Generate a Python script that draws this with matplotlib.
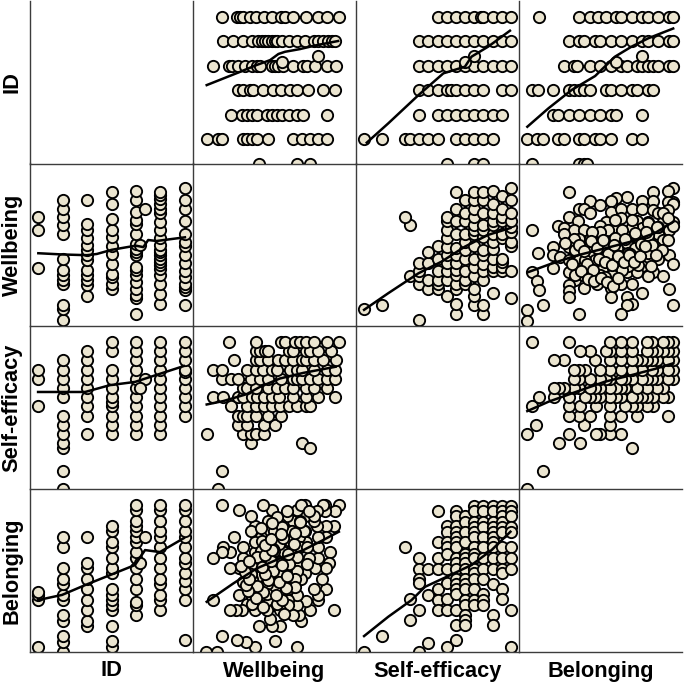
"""
plot.py - pairs plot of ID, Wellbeing, Self-efficacy and Belonging with smoothers.
"""
import numpy as np
import matplotlib; matplotlib.use('Agg')
import matplotlib.pyplot as plt

names = ['ID', 'Wellbeing', 'Self-efficacy', 'Belonging']
id_levels = [1, 2, 3, 4, 5, 6, 7]
se_levels = [1.0, 1.375, 1.75, 2.125, 2.5, 2.875, 3.25, 3.625, 4.0, 4.375, 4.75, 5.125, 5.5, 5.875, 6.25, 6.625, 7.0]

# wellbeing / self-efficacy / belonging scores at each ID level (1..7)
wb_by_id = [
    [3.38, 4.93, 5.45],
    [1.23, 1.71, 1.87, 2.73, 2.89, 3.07, 3.27, 3.75, 4.77, 5.11, 5.45, 5.79, 6.13],
    [2.21, 2.66, 2.86, 3.07, 3.27, 3.68, 3.88, 4.09, 4.29, 4.59, 4.93, 5.18, 6.13],
    [2.52, 2.73, 3.0, 3.14, 3.54, 3.95, 4.25, 4.63, 4.93, 5.38, 5.97, 6.47],
    [1.50, 2.16, 2.25, 2.52, 2.79, 3.07, 3.27, 3.41, 3.88, 4.02, 4.16, 4.36, 4.77, 5.18, 5.31, 5.65, 6.13, 6.50],
    [1.88, 2.32, 2.70, 3.07, 3.34, 3.48, 3.61, 3.75, 3.88, 4.02, 4.11, 4.29, 4.59, 4.93, 5.24, 5.61, 5.79, 5.99, 6.2, 6.33, 6.47],
    [1.84, 2.45, 2.59, 2.73, 3.0, 3.23, 3.57, 3.91, 4.25, 4.43, 4.77, 5.27, 5.79, 6.13, 6.63],
]
se_by_id = [
    [4.375, 5.5, 5.875],
    [1.0, 1.75, 2.68, 2.875, 3.25, 3.625, 4.0, 4.75, 5.125, 5.5, 5.875, 6.25],
    [3.25, 4.0, 4.375, 4.75, 5.125, 5.5, 5.875, 6.25, 6.625],
    [3.25, 3.625, 4.0, 4.375, 4.56, 4.75, 5.125, 5.5, 5.875, 6.625, 7.0],
    [3.25, 3.625, 4.0, 4.375, 4.75, 5.125, 5.5, 5.875, 6.25, 6.625, 7.0],
    [3.25, 3.625, 4.0, 4.375, 4.75, 5.125, 5.5, 5.875, 6.25, 6.625, 7.0],
    [4.0, 4.375, 4.75, 5.125, 5.5, 5.76, 5.875, 6.25, 6.625, 7.0],
]
bel_by_id = [
    [1.22, 3.14, 3.34, 3.44],
    [1.0, 1.39, 1.64, 2.28, 2.50, 3.14, 3.34, 3.78, 3.99, 4.41, 5.27, 5.71],
    [2.07, 2.28, 2.71, 3.14, 3.57, 3.99, 4.41, 4.63, 5.71],
    [1.22, 1.44, 2.07, 2.71, 2.93, 3.14, 3.34, 3.57, 4.21, 4.41, 4.85, 5.27, 5.49, 5.93, 6.13],
    [2.50, 2.93, 3.03, 3.57, 3.99, 4.41, 4.85, 5.07, 5.49, 5.71, 5.93, 6.13, 6.36, 6.78, 6.98],
    [2.71, 3.14, 3.34, 3.78, 3.99, 4.41, 4.85, 5.27, 5.71, 5.93, 6.36, 6.78, 6.98],
    [1.49, 3.14, 3.57, 3.88, 4.21, 4.63, 4.85, 5.27, 5.71, 5.93, 6.36, 6.78, 6.98],
]
# two respondents with an imputed, non-integer ID
id_extra = [5.38, 5.15]
wb_extra = [5.79, 4.29]
se_extra = [5.5, 5.125]
bel_extra = [5.71, 4.63]

# wellbeing at each self-efficacy level
wb_by_se = [
    [1.68], [], [1.87], [], [],
    [3.04, 5.11],
    [1.23, 2.70, 3.04, 3.23, 3.57],
    [2.52, 2.89, 3.57, 4.01],
    [2.52, 2.73, 2.89, 3.23, 3.75, 4.25],
    [2.21, 2.89, 3.23, 3.57, 3.88, 4.22, 4.59, 4.93, 5.27, 5.45],
    [1.50, 1.91, 2.52, 2.73, 3.07, 3.27, 3.57, 3.88, 4.20, 4.77, 5.27, 5.79, 6.47],
    [2.70, 2.89, 3.23, 3.75, 4.11, 4.43, 4.77, 5.27, 5.61, 6.13],
    [1.87, 2.21, 2.52, 3.04, 3.41, 3.75, 4.25, 4.77, 4.93, 5.11, 5.45, 5.79, 6.13, 6.47],
    [1.50, 1.87, 2.86, 3.23, 3.52, 3.88, 4.09, 4.63, 4.93, 5.11, 5.61, 6.13, 6.47],
    [2.36, 3.23, 3.41, 3.75, 4.16, 4.43, 4.77, 5.11, 5.27, 5.62, 5.99, 6.50],
    [3.23, 3.41, 3.61, 3.75, 4.59, 4.77, 5.27, 5.45, 5.79, 6.31],
    [2.14, 3.23, 4.25, 4.43, 4.84, 5.04, 5.27, 5.62, 6.13, 6.65],
]
# belonging at each self-efficacy level
bel_by_se = [
    [1.0], [], [1.65], [], [],
    [3.15, 2.29],
    [4.85, 4.40, 3.96, 3.80, 2.71, 1.0],
    [4.40, 3.33, 1.38],
    [6.77, 5.50, 4.85, 4.40, 3.56, 3.12, 2.71],
    [6.15, 5.91, 5.50, 5.27, 5.02, 4.40, 3.80, 3.15, 2.71, 1.22],
    [6.77, 6.55, 6.15, 5.91, 5.71, 5.50, 5.27, 4.85, 4.62, 4.40, 3.99, 3.77, 3.56, 3.37, 2.71, 2.10, 1.49],
    [6.55, 6.32, 5.91, 5.50, 5.02, 4.82, 4.62, 4.40, 3.99, 3.77, 3.56, 3.12, 2.92, 2.51, 2.30, 2.10],
    [6.97, 6.77, 6.32, 6.11, 5.91, 5.71, 5.27, 5.02, 4.82, 4.40, 4.21, 3.99, 3.56, 3.12, 2.92],
    [6.97, 6.77, 6.32, 6.11, 5.71, 5.27, 4.82, 4.40, 3.99, 3.37, 3.12, 2.92],
    [6.97, 6.77, 6.32, 6.11, 5.91, 5.71, 5.50, 5.27, 4.82, 4.40, 3.77, 2.51, 2.10],
    [6.97, 6.77, 6.55, 6.32, 6.11, 5.91, 5.27, 4.82, 4.40, 4.21, 3.56, 3.15],
    [6.97, 6.77, 6.55, 6.11, 5.91, 5.27, 4.82, 4.40, 2.71, 1.22],
]
se_single = [2.68]
wb_single = [5.46]
bel_single = [5.27]

# belonging and wellbeing, respondent by respondent
bel_wb_b = [2.71, 6.98, 6.77, 6.13, 5.07, 4.63, 4.41, 3.57, 3.98, 6.13, 5.71, 6.98, 6.77, 6.98, 3.14, 3.34, 3.57, 4.41,
            4.85, 5.27, 5.71, 6.13, 6.77, 6.36, 2.71, 3.07, 4.21, 4.85, 5.49, 5.93, 6.56, 6.98, 2.28, 2.52, 1.22, 2.93,
            3.34, 3.99, 4.41, 5.07, 5.71, 6.13, 6.36, 6.78, 6.98, 2.50, 3.14, 3.57, 2.93, 4.21, 4.85, 5.27, 5.93, 6.56,
            3.78, 2.07, 2.71, 3.14, 5.07, 5.71, 6.13, 1.44, 2.07, 2.35, 3.57, 4.21, 4.46, 5.27, 5.49, 5.93, 6.36, 6.78,
            2.71, 3.14, 3.78, 3.34, 3.99, 4.63, 5.71, 6.98, 2.07, 1.22, 2.71, 3.57, 4.41, 5.07, 5.49, 6.13, 6.56, 5.93,
            1.39, 2.96, 3.57, 3.99, 4.41, 4.85, 5.27, 3.84, 2.71, 1.49, 3.34, 2.71, 4.41, 5.68, 6.78, 2.71, 4.41, 5.07,
            1.64, 5.27, 5.07, 6.98, 0.99, 3.14, 4.85, 0.99,
            3.78, 4.21, 4.66, 5.07, 5.41, 4.86, 4.59, 4.05, 3.64, 3.37, 2.55, 2.96, 3.78, 4.05, 4.59, 5.27, 4.86, 5.88,
            6.22, 5.95, 6.50, 6.77, 5.95, 5.54, 4.32, 3.98, 3.64, 4.59, 5.14, 5.54, 5.14, 4.86, 4.46, 3.98, 3.30, 2.96,
            5.95, 6.36, 5.27, 4.59, 4.18, 3.78, 6.56, 6.77,
            3.14, 3.34, 3.60, 3.85, 4.10, 4.30, 4.55, 4.75, 5.00, 5.20, 5.40, 5.65, 5.85, 6.10, 6.30, 3.45, 3.70, 3.95,
            4.20, 4.45, 4.70, 4.95, 5.15, 5.35, 5.60, 5.80, 6.05, 6.25, 2.85, 3.20, 3.50, 3.75, 4.00, 4.25, 4.50, 4.70]
bel_wb_w = [6.45, 6.62, 6.49, 6.45, 6.28, 6.22, 6.11, 6.11, 5.94, 6.11, 6.11, 6.08, 6.08, 5.97, 5.77, 5.77, 5.60, 5.67,
            5.77, 5.77, 5.77, 5.74, 5.74, 5.60, 5.44, 5.30, 5.26, 5.40, 5.29, 5.26, 5.26, 5.26, 5.09, 5.0, 4.92, 4.92,
            4.92, 5.09, 4.76, 4.76, 5.0, 4.92, 4.76, 4.92, 5.09, 4.76, 4.56, 4.56, 4.56, 4.41, 4.41, 4.51, 4.56, 4.51,
            4.31, 4.24, 4.22, 4.08, 4.11, 4.08, 4.22, 4.0, 3.88, 3.83, 4.04, 3.88, 3.86, 3.73, 3.73, 3.73, 3.73, 3.88,
            3.70, 3.70, 3.54, 3.43, 3.43, 3.43, 3.45, 3.55, 3.37, 3.21, 3.21, 3.29, 3.21, 3.21, 3.21, 3.21, 3.05, 3.05,
            2.85, 2.88, 2.99, 3.02, 2.91, 2.72, 2.72, 2.72, 2.68, 2.45, 2.54, 2.41, 2.54, 2.34, 2.53, 2.17, 2.19, 2.17,
            1.85, 1.88, 1.85, 1.85, 1.66, 1.5, 1.5, 1.21,
            3.70, 4.24, 4.17, 4.38, 4.17, 3.70, 3.70, 3.29, 3.09, 3.70, 4.38, 4.11, 4.65, 4.65, 5.06, 5.06, 4.92, 4.38,
            4.24, 3.97, 4.11, 4.51, 4.72, 4.65, 4.92, 4.85, 4.85, 4.58, 3.97, 3.5, 3.43, 3.29, 3.09, 3.09, 3.09, 3.09,
            5.19, 5.06, 5.33, 5.33, 3.02, 3.02, 5.60, 5.40,
            4.30, 4.05, 4.45, 4.20, 4.50, 3.95, 4.30, 3.85, 4.55, 3.95, 4.80, 4.35, 4.85, 4.30, 5.05, 3.55, 3.30, 3.75,
            3.60, 3.50, 3.85, 3.60, 3.90, 3.60, 3.85, 4.25, 3.45, 3.90, 3.55, 3.25, 2.90, 2.85, 2.95, 2.80, 2.65, 2.95]

# smoother for each panel: (row variable, column variable) -> x, y
line_w_id_x = [1.23, 1.91, 2.59, 3.27, 3.82, 4.16, 4.43, 5.04, 5.72, 6.6]
line_w_id_y = [4.20, 4.47, 4.74, 5.02, 5.22, 5.47, 5.56, 5.67, 5.83, 6.0]
line_s_id_x = [1.11, 1.99, 3.22, 4.24, 5.12, 5.39, 6.07, 6.96]
line_s_id_y = [1.85, 2.64, 3.79, 4.68, 4.95, 5.36, 5.77, 6.42]
line_b_id_x = [1.01, 1.87, 2.82, 3.78, 4.59, 5.27, 5.95, 6.97]
line_b_id_y = [2.5, 3.25, 4.0, 4.57, 5.36, 5.77, 6.11, 6.51]
line_id_w_x = [1.01, 1.99, 3.0, 3.4, 4.01, 4.99, 5.3, 5.5, 5.84, 7.0]
line_id_w_y = [3.97, 3.92, 3.89, 3.94, 4.11, 4.28, 4.22, 4.51, 4.47, 4.62]
line_s_w_x = [1.0, 1.99, 3.22, 4.17, 5.12, 6.07, 6.98]
line_s_w_y = [1.66, 2.34, 3.15, 3.63, 4.24, 4.72, 5.0]
line_b_w_x = [1.05, 1.87, 2.96, 4.18, 5.27, 6.22, 6.98]
line_b_w_y = [3.2, 3.5, 3.86, 4.17, 4.45, 4.79, 5.26]
line_id_s_x = [1.0, 2.92, 3.94, 4.96, 5.57, 6.96]
line_id_s_y = [4.96, 4.96, 5.24, 5.37, 5.57, 6.02]
line_w_s_x = [1.23, 1.91, 2.86, 3.41, 4.22, 5.18, 6.5]
line_w_s_y = [4.45, 4.59, 4.87, 5.17, 5.51, 5.74, 5.99]
line_b_s_x = [1.01, 1.87, 2.82, 4.18, 5.27, 6.22, 6.97]
line_b_s_y = [4.18, 4.56, 4.9, 5.38, 5.65, 5.9, 6.13]
line_id_b_x = [1.0, 1.98, 2.92, 3.94, 4.96, 5.37, 5.98, 6.96]
line_id_b_y = [3.12, 3.33, 3.73, 4.14, 4.55, 5.16, 5.08, 5.65]
line_w_b_x = [1.23, 2.32, 3.27, 4.22, 5.18, 5.99, 6.63]
line_w_b_y = [3.05, 3.8, 4.41, 4.82, 5.16, 5.57, 5.91]
line_s_b_x = [1.0, 1.99, 2.94, 3.49, 4.44, 5.39, 6.21, 6.98]
line_s_b_y = [1.65, 2.44, 3.12, 3.66, 4.1, 4.55, 5.16, 5.91]


def flatten(levels, groups, extra_level, extra_values):
    x, y = [], []
    for lev, vals in zip(levels, groups):
        x += [lev]*len(vals)
        y += vals
    return x + extra_level, y + extra_values


pairs = {}
pairs[(0, 1)] = flatten(id_levels, wb_by_id, id_extra, wb_extra)
pairs[(0, 2)] = flatten(id_levels, se_by_id, id_extra, se_extra)
pairs[(0, 3)] = flatten(id_levels, bel_by_id, id_extra, bel_extra)
pairs[(2, 1)] = flatten(se_levels, wb_by_se, se_single, wb_single)
pairs[(2, 3)] = flatten(se_levels, bel_by_se, se_single, bel_single)
pairs[(3, 1)] = (bel_wb_b, bel_wb_w)

lines = {
    (0, 1): (line_w_id_x, line_w_id_y), (0, 2): (line_s_id_x, line_s_id_y), (0, 3): (line_b_id_x, line_b_id_y),
    (1, 0): (line_id_w_x, line_id_w_y), (1, 2): (line_s_w_x, line_s_w_y), (1, 3): (line_b_w_x, line_b_w_y),
    (2, 0): (line_id_s_x, line_id_s_y), (2, 1): (line_w_s_x, line_w_s_y), (2, 3): (line_b_s_x, line_b_s_y),
    (3, 0): (line_id_b_x, line_id_b_y), (3, 1): (line_w_b_x, line_w_b_y), (3, 2): (line_s_b_x, line_s_b_y),
}

W, H = 685, 687
plt.rcParams['font.family'] = ['Liberation Sans', 'DejaVu Sans']
fig = plt.figure(figsize=(W/100, H/100), dpi=100)

col_left = [30, 193, 356, 519]
row_bottom = [163.5, 326, 489, 652]
pw, ph = 163, 162.75

for r in range(4):
    for c in range(4):
        ax = fig.add_axes([col_left[c]/W, 1 - row_bottom[r]/H, pw/W, ph/H])
        ax.patch.set_visible(False)
        ax.set_xlim(0.67, 7.33)
        ax.set_ylim(1, 1 + ph/24.5)
        ax.set_xticks([]); ax.set_yticks([])
        ax.spines['top'].set_visible(False)
        ax.spines['right'].set_visible(False)
        for s in ['left', 'bottom']:
            ax.spines[s].set_color('#3c3c3c'); ax.spines[s].set_linewidth(1.0)
        if r == c:
            continue
        # each pair is stored once, the mirror panel swaps the axes
        if (c, r) in pairs:
            x, y = pairs[(c, r)]
        else:
            y, x = pairs[(r, c)]
        ax.scatter(x, y, s=66, facecolor='#ebe5d0', edgecolor='black', linewidth=1.35, zorder=2)
        lx, ly = lines[(r, c)]
        ax.plot(lx, ly, color='black', lw=1.8, zorder=3)

for i, name in enumerate(names):
    fig.text((col_left[i] + pw/2)/W, 1 - 671/H, name, fontsize=15.7, fontweight='bold', ha='center', va='center')
    fig.text(12/W, 1 - (row_bottom[i] - ph/2)/H, name, fontsize=15.7, fontweight='bold',
             rotation=90, ha='center', va='center')

fig.savefig('out.png', dpi=100)
plt.close(fig)
